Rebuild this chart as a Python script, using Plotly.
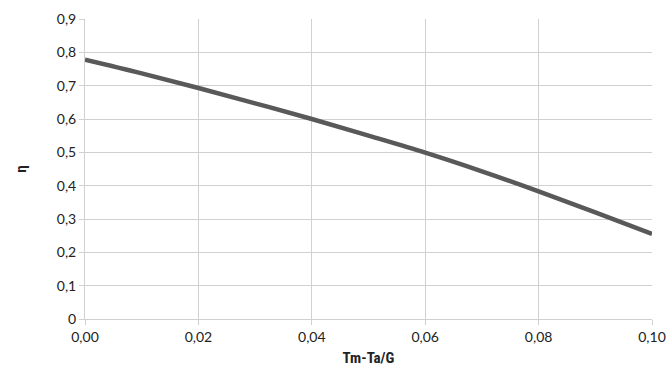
import plotly.graph_objects as go

x_vals = [0.00, 0.01, 0.02, 0.03, 0.04, 0.05, 0.06, 0.07, 0.08, 0.09, 0.10]
eta_vals = [0.778, 0.737, 0.693, 0.647, 0.600, 0.550, 0.499, 0.443, 0.383, 0.320, 0.255]

x_ticks = [0.00, 0.02, 0.04, 0.06, 0.08, 0.10]
x_tick_labels = ["0,00", "0,02", "0,04", "0,06", "0,08", "0,10"]
y_ticks = [0, 0.1, 0.2, 0.3, 0.4, 0.5, 0.6, 0.7, 0.8, 0.9]
y_tick_labels = ["0", "0,1", "0,2", "0,3", "0,4", "0,5", "0,6", "0,7", "0,8", "0,9"]

font_fam = "Lato, sans-serif"
title_fam = "Roboto Condensed, sans-serif"

fig = go.Figure()
fig.add_trace(go.Scatter(
    x=x_vals, y=eta_vals, mode="lines",
    line=dict(color="#595959", width=4.5, shape="spline"),
    hoverinfo="skip", showlegend=False, cliponaxis=False,
))

grid = "#d0d0d0"
fig.update_layout(
    width=671, height=374,
    margin=dict(l=85, r=19, t=19, b=55, autoexpand=False),
    paper_bgcolor="white", plot_bgcolor="white",
    font=dict(family=font_fam, size=14, color="#222222"),
    xaxis=dict(
        range=[0, 0.1], tickvals=x_ticks, ticktext=x_tick_labels,
        showgrid=True, gridcolor=grid, gridwidth=1,
        showline=True, linecolor=grid, linewidth=1,
        ticks="outside", ticklen=5, tickcolor=grid,
        zeroline=False, mirror=False, automargin=False,
        title=dict(text="<b>Tm-Ta/G</b>", font=dict(family=title_fam, size=15), standoff=8),
    ),
    yaxis=dict(
        range=[0, 0.9], tickvals=y_ticks, ticktext=y_tick_labels,
        showgrid=True, gridcolor=grid, gridwidth=1,
        showline=True, linecolor=grid, linewidth=1,
        ticks="outside", ticklen=5, tickcolor=grid,
        zeroline=False, automargin=False,
        title=dict(text="<b>η</b>", font=dict(family=title_fam, size=15), standoff=26),
    ),
)

fig.write_html(
    "out.html",
    config={"displayModeBar": False},
    post_script="document.body.style.margin='0';document.body.style.overflow='hidden';",
)
